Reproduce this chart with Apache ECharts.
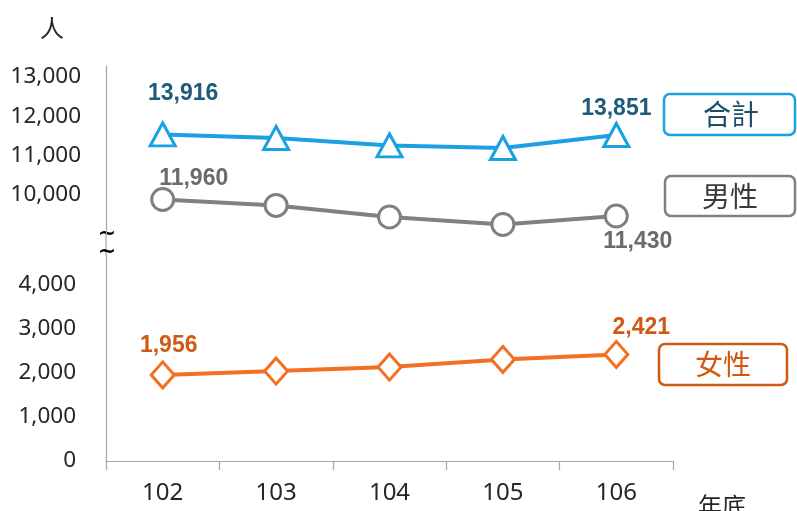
<!DOCTYPE html>
<html>
<head>
<meta charset="utf-8">
<script src="https://cdn.jsdelivr.net/npm/echarts@6/dist/echarts.min.js"></script>
<style>
  html, body { margin: 0; padding: 0; background: #ffffff; }
  #chart { width: 797px; height: 511px; }
</style>
</head>
<body>
<div id="chart"></div>
<script>
// ---- data ----
const categories = ['102', '103', '104', '105', '106'];
// positions of the upper-section marks, read against the drawn (broken) axis
const totalPlotted = [11540, 11450, 11260, 11195, 11525];
const malePlotted = [9885, 9735, 9440, 9250, 9465];
// female section is drawn to scale
const femaleValues = [1956, 2045, 2136, 2307, 2421];
// data labels printed on the chart (actual counts)
const totalLabels = [13916, null, null, null, 13851];
const maleLabels = [11960, null, null, null, 11430];
const femaleLabels = [1956, null, null, null, 2421];
// tick labels
const upperTicks = [10000, 11000, 12000, 13000];
const lowerTicks = [0, 1000, 2000, 3000, 4000];
const seriesNames = ['合計', '男性', '女性'];

// ---- styles ----
const C_TOTAL = '#1ba1e2', C_MALE = '#808080', C_FEMALE = '#f36f21';
const L_TOTAL = '#1f5b78', L_MALE = '#6b6b6b', L_FEMALE = '#cf5a14';
const numFont = '"Noto Sans", "Liberation Sans", sans-serif';
const boldFont = '"Liberation Sans", Arial, sans-serif';
const cjkFont = '"Noto Sans CJK TC", "Noto Sans CJK SC", sans-serif';
const fmt = v => v.toLocaleString('en-US');

const labelOffsets = {
  total: [[20.5, -41], null, null, null, [0, -26.5]],
  male: [[31, -21], null, null, null, [21.5, 25.5]],
  female: [[6, -29.5], null, null, null, [25, -27]]
};

function buildData(values, labels, offsets, color) {
  return values.map((v, i) => ({
    value: v,
    label: labels[i] == null ? { show: false } : {
      show: true,
      position: 'inside',
      offset: offsets[i],
      formatter: () => fmt(labels[i]),
      color: color,
      fontFamily: boldFont,
      fontWeight: 'bold',
      fontSize: 23
    }
  }));
}

const chart = echarts.init(document.getElementById('chart'), null, { renderer: 'canvas' });

const axisLineStyle = { color: '#a6a6a6', width: 1.2 };

const option = {
  animation: false,
  backgroundColor: '#ffffff',
  grid: [
    { left: 106, right: 124, top: 66, height: 168.3 },
    { left: 106, right: 124, top: 255, height: 206 }
  ],
  xAxis: [
    { type: 'category', gridIndex: 0, data: categories, show: false, boundaryGap: true },
    {
      type: 'category', gridIndex: 1, data: categories, boundaryGap: true,
      axisLine: { lineStyle: axisLineStyle },
      axisTick: { show: true, length: 9, lineStyle: axisLineStyle },
      axisLabel: { color: '#262626', fontSize: 24, fontFamily: numFont, margin: 20 }
    }
  ],
  yAxis: [
    {
      type: 'value', gridIndex: 0, min: 9000, max: 13280, interval: 1000,
      axisLine: { show: true, lineStyle: axisLineStyle },
      axisTick: { show: false },
      splitLine: { show: false },
      axisLabel: {
        color: '#262626', fontSize: 22.5, fontFamily: numFont, margin: 25,
        showMinLabel: true, showMaxLabel: true,
        formatter: v => upperTicks.includes(v) ? fmt(v) : ''
      }
    },
    {
      type: 'value', gridIndex: 1, min: 0, max: 4682, interval: 1000,
      axisLine: { show: true, lineStyle: axisLineStyle },
      axisTick: { show: false },
      splitLine: { show: false },
      axisLabel: {
        color: '#262626', fontSize: 22.5, fontFamily: numFont, margin: 30,
        formatter: v => lowerTicks.includes(v) ? fmt(v) : ''
      }
    }
  ],
  series: [
    {
      name: seriesNames[0], type: 'line', xAxisIndex: 0, yAxisIndex: 0,
      data: buildData(totalPlotted, totalLabels, labelOffsets.total, L_TOTAL),
      symbol: 'triangle', symbolSize: [25, 23], showAllSymbol: true,
      lineStyle: { color: C_TOTAL, width: 4 },
      itemStyle: { color: '#ffffff', borderColor: C_TOTAL, borderWidth: 3 },
      z: 3
    },
    {
      name: seriesNames[1], type: 'line', xAxisIndex: 0, yAxisIndex: 0,
      data: buildData(malePlotted, maleLabels, labelOffsets.male, L_MALE),
      symbol: 'circle', symbolSize: 22, showAllSymbol: true,
      lineStyle: { color: C_MALE, width: 4 },
      itemStyle: { color: '#ffffff', borderColor: C_MALE, borderWidth: 3 },
      z: 3
    },
    {
      name: seriesNames[2], type: 'line', xAxisIndex: 1, yAxisIndex: 1,
      data: buildData(femaleValues, femaleLabels, labelOffsets.female, L_FEMALE),
      symbol: 'diamond', symbolSize: [23, 26], showAllSymbol: true,
      lineStyle: { color: C_FEMALE, width: 4 },
      itemStyle: { color: '#ffffff', borderColor: C_FEMALE, borderWidth: 3 },
      z: 3
    }
  ],
  graphic: [
    // connect the two axis sections
    { type: 'line', shape: { x1: 106, y1: 234, x2: 106, y2: 255 }, style: { stroke: '#a6a6a6', lineWidth: 1.2 } },
    // break marks
    { type: 'text', x: 107, y: 234, style: { text: '~', font: 'bold 22px "DejaVu Sans"', fill: '#000', align: 'center', verticalAlign: 'middle' } },
    { type: 'text', x: 107, y: 252, style: { text: '~', font: 'bold 22px "DejaVu Sans"', fill: '#000', align: 'center', verticalAlign: 'middle' } },
    // unit labels
    { type: 'text', x: 52, y: 28, style: { text: '人', font: '24px ' + cjkFont, fill: '#262626', align: 'center', verticalAlign: 'middle' } },
    { type: 'text', x: 722, y: 506, style: { text: '年底', font: '24px ' + cjkFont, fill: '#262626', align: 'center', verticalAlign: 'middle' } },
    // series name boxes
    { type: 'rect', shape: { x: 664, y: 94, width: 131, height: 41, r: 6 }, style: { fill: '#fff', stroke: C_TOTAL, lineWidth: 2.5 } },
    { type: 'text', x: 731, y: 114, style: { text: seriesNames[0], font: '28px ' + cjkFont, fill: '#1f4f66', align: 'center', verticalAlign: 'middle' } },
    { type: 'rect', shape: { x: 665, y: 176, width: 130, height: 40, r: 6 }, style: { fill: '#fff', stroke: C_MALE, lineWidth: 2.5 } },
    { type: 'text', x: 730, y: 196, style: { text: seriesNames[1], font: '28px ' + cjkFont, fill: '#3a3a3a', align: 'center', verticalAlign: 'middle' } },
    { type: 'rect', shape: { x: 659, y: 344, width: 128, height: 41, r: 6 }, style: { fill: '#fff', stroke: '#cf5a14', lineWidth: 2.5 } },
    { type: 'text', x: 723, y: 364, style: { text: seriesNames[2], font: '28px ' + cjkFont, fill: '#d0580f', align: 'center', verticalAlign: 'middle' } }
  ]
};

chart.setOption(option);
</script>
</body>
</html>
